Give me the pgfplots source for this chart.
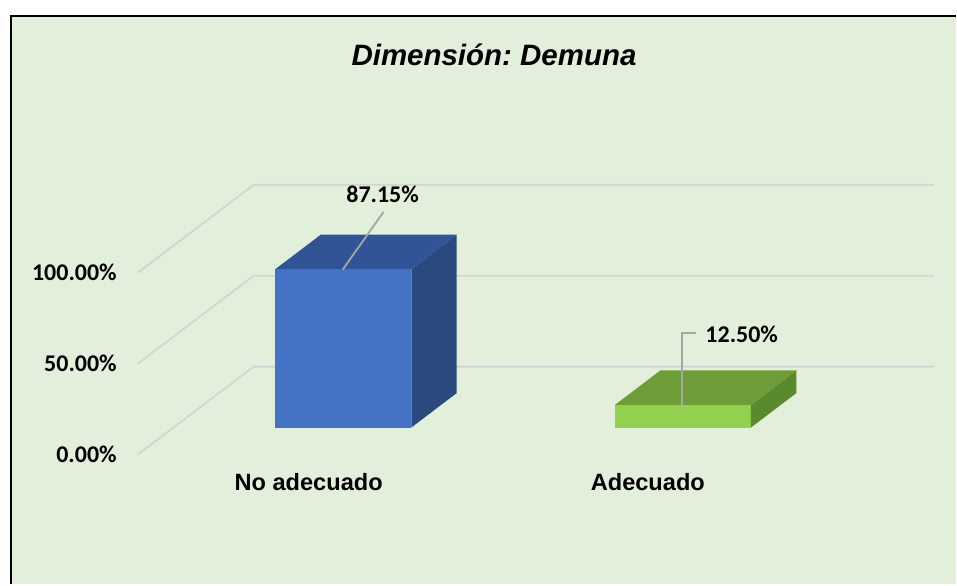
\documentclass[border=0pt]{standalone}
\usepackage{fontspec}
\setmainfont{Liberation Sans}
\newfontfamily\calib{Carlito}
\usepackage{pgfplots}
\pgfplotsset{compat=1.18}
\definecolor{bgreen}{HTML}{E2EFDA}
\definecolor{gridc}{HTML}{D4D4D4}
\definecolor{leadc}{HTML}{A6A6A6}
\definecolor{blueF}{HTML}{4472C4}
\definecolor{blueT}{HTML}{305496}
\definecolor{blueS}{HTML}{2A4A7F}
\definecolor{greenF}{HTML}{92D050}
\definecolor{greenT}{HTML}{6E9D38}
\definecolor{greenS}{HTML}{5B8A2E}
\frenchspacing

\begin{document}
\begin{tikzpicture}
\begin{axis}[
  width=957pt, height=585pt, scale only axis,
  xmin=0, xmax=957, ymin=-71.43, ymax=250,
  hide axis, clip=false,
]
% page and chart area
\fill[white] (rel axis cs:0,0) rectangle (rel axis cs:1,1);
\fill[bgreen] (axis cs:11,241.2) rectangle (axis cs:957,-71.43);
\draw[black, line width=2pt] (axis cs:11,-71.43) -- (axis cs:11,241.2) -- (axis cs:957,241.2);

% 3D grid lines (floor diagonal + back wall)
\addplot[gridc, line width=1.8pt] coordinates {(138,0) (254,48.35) (935,48.35)};
\addplot[gridc, line width=1.8pt] coordinates {(138,50) (254,98.35) (935,98.35)};
\addplot[gridc, line width=1.8pt] coordinates {(138,100) (254,148.35) (935,148.35)};

% No adecuado: 87.15
\addplot[ybar, bar width=136pt, fill=blueF, draw=none, yshift=27pt] coordinates {(343.7,87.15)};
\addplot[fill=blueS, draw=none, yshift=27pt] coordinates {(411.7,0) (457.2,18.96) (457.2,106.11) (411.7,87.15)} -- cycle;
\addplot[fill=blueT, draw=none, yshift=27pt] coordinates {(275.7,87.15) (411.7,87.15) (457.2,106.11) (321.2,106.11)} -- cycle;

% Adecuado: 12.50
\addplot[ybar, bar width=136pt, fill=greenF, draw=none, yshift=27pt] coordinates {(683.7,12.5)};
\addplot[fill=greenS, draw=none, yshift=27pt] coordinates {(751.7,0) (797.2,18.96) (797.2,31.46) (751.7,12.5)} -- cycle;
\addplot[fill=greenT, draw=none, yshift=27pt] coordinates {(615.7,12.5) (751.7,12.5) (797.2,31.46) (661.2,31.46)} -- cycle;

% data labels with leader lines
\draw[leadc, line width=1.8pt] (axis cs:343,101.65) -- (axis cs:384,133.5);
\node[font=\calib\bfseries\fontsize{24}{28}\selectfont, inner sep=0pt] at (axis cs:383,142.9) {87.15\%};
\draw[leadc, line width=1.8pt] (axis cs:683,26.92) -- (axis cs:683,67.03) -- (axis cs:697,67.03);
\node[font=\calib\bfseries\fontsize{24}{28}\selectfont, inner sep=0pt, anchor=west] at (axis cs:706,65.9) {12.50\%};

% y tick labels
\node[font=\calib\bfseries\fontsize{24}{28}\selectfont, inner sep=0pt, anchor=east] at (axis cs:117,0) {0.00\%};
\node[font=\calib\bfseries\fontsize{24}{28}\selectfont, inner sep=0pt, anchor=east] at (axis cs:117,50) {50.00\%};
\node[font=\calib\bfseries\fontsize{24}{28}\selectfont, inner sep=0pt, anchor=east] at (axis cs:117,100) {100.00\%};

% category labels
\node[font=\bfseries\fontsize{23.6}{27}\selectfont, inner sep=0pt] at (axis cs:309,-15.38) {No adecuado};
\node[font=\bfseries\fontsize{23.6}{27}\selectfont, inner sep=0pt] at (axis cs:648.5,-15.38) {Adecuado};

% title
\node[font=\bfseries\itshape\fontsize{29.5}{33}\selectfont, inner sep=0pt] at (axis cs:494.5,219.8) {Dimensión: Demuna};
\end{axis}
\end{tikzpicture}
\end{document}
